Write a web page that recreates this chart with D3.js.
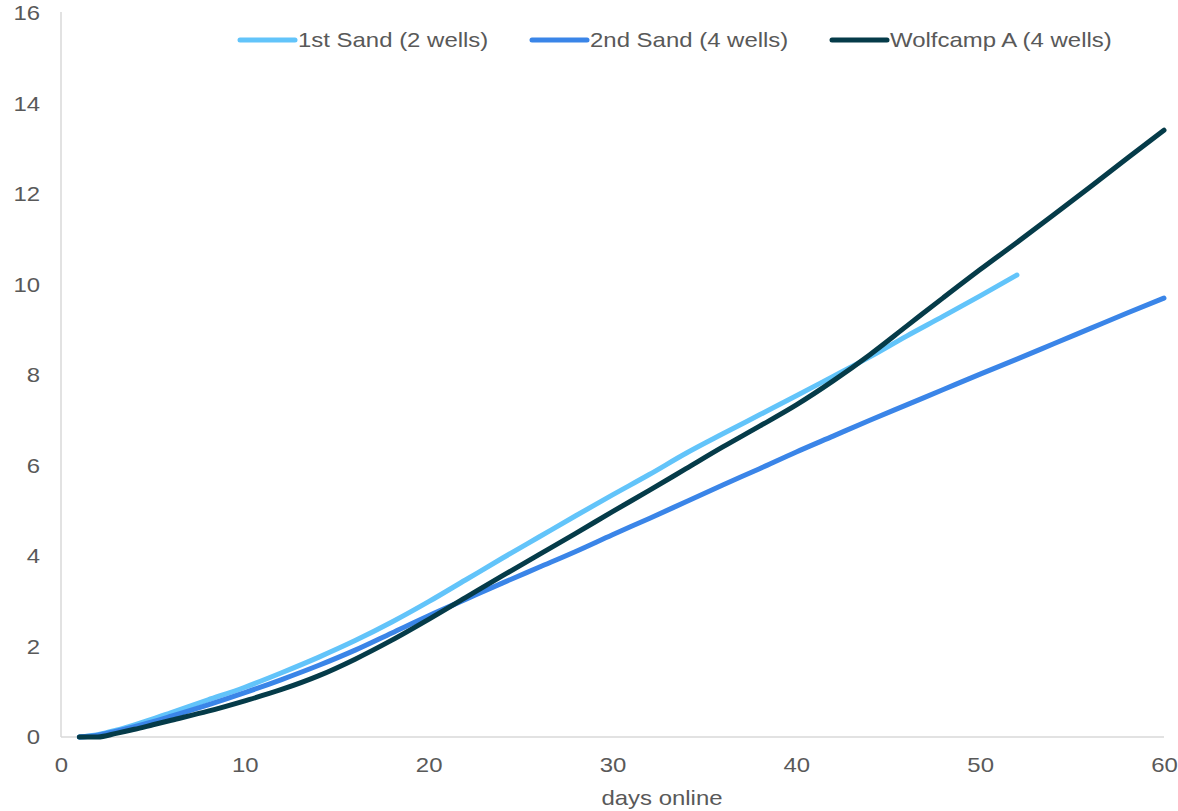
<!DOCTYPE html>
<html>
<head>
<meta charset="utf-8">
<script src="https://cdn.jsdelivr.net/npm/d3@7"></script>
<style>
  html, body { margin: 0; padding: 0; background: #ffffff; }
  svg { display: block; font-family: "Liberation Sans", Arial, sans-serif; }
</style>
</head>
<body>
<svg id="chart" width="1178" height="811"></svg>
<script>
// Cumulative production by days online, per landing zone
const seriesNames = ["1st Sand (2 wells)", "2nd Sand (4 wells)", "Wolfcamp A (4 wells)"];
const seriesColors = ["#62C4FA", "#3A85E8", "#053B49"];

const days1st = [1, 2, 3, 4, 5, 6, 8, 10, 12, 14, 16, 18, 20, 22, 24, 26, 28, 30, 32, 34, 36, 38, 40, 42, 44, 46, 48, 50, 52];
const vals1st = [0, 0.05, 0.15, 0.27, 0.4, 0.54, 0.82, 1.1, 1.42, 1.76, 2.13, 2.54, 2.99, 3.47, 3.95, 4.42, 4.89, 5.35, 5.8, 6.27, 6.7, 7.12, 7.54, 7.97, 8.4, 8.86, 9.3, 9.75, 10.21];

const days2nd = [1, 2, 3, 4, 5, 6, 8, 10, 12, 14, 16, 18, 20, 22, 24, 26, 28, 30, 32, 34, 36, 38, 40, 42, 44, 46, 48, 50, 52, 54, 56, 58, 60];
const vals2nd = [0, 0.04, 0.13, 0.23, 0.34, 0.46, 0.71, 0.98, 1.27, 1.58, 1.92, 2.3, 2.68, 3.04, 3.4, 3.75, 4.1, 4.47, 4.83, 5.2, 5.57, 5.93, 6.3, 6.65, 7.0, 7.34, 7.68, 8.02, 8.35, 8.69, 9.03, 9.37, 9.7];

const daysWA = [1, 2, 3, 4, 5, 6, 8, 10, 12, 14, 16, 18, 20, 22, 24, 26, 28, 30, 32, 34, 36, 38, 40, 42, 44, 46, 48, 50, 52, 54, 56, 58, 60];
const valsWA = [0, 0.0, 0.08, 0.17, 0.27, 0.37, 0.57, 0.8, 1.05, 1.35, 1.72, 2.14, 2.6, 3.08, 3.56, 4.03, 4.5, 4.98, 5.45, 5.93, 6.41, 6.87, 7.34, 7.87, 8.45, 9.08, 9.71, 10.33, 10.93, 11.54, 12.16, 12.79, 13.41];

const xTicks = [0, 10, 20, 30, 40, 50, 60];
const yTicks = [0, 2, 4, 6, 8, 10, 12, 14, 16];
const xTitle = "days online";

const svg = d3.select("#chart");
const margin = { left: 61, right: 14, top: 13, bottom: 74 };
const W = 1178, H = 811;

const x = d3.scaleLinear().domain([0, 60]).range([margin.left, W - margin.right]);
const y = d3.scaleLinear().domain([0, 16]).range([H - margin.bottom, margin.top]);

const textColor = "#595959";
const axisColor = "#D9D9D9";
const fontSize = "21px";
const textStretch = 1.14;

// Axis lines
svg.append("line")
  .attr("x1", x(0)).attr("x2", x(0))
  .attr("y1", y(16) - 1).attr("y2", y(0))
  .attr("stroke", axisColor).attr("stroke-width", 1.5);
svg.append("line")
  .attr("x1", x(0)).attr("x2", x(60))
  .attr("y1", y(0)).attr("y2", y(0))
  .attr("stroke", axisColor).attr("stroke-width", 1.5);

// Y axis labels
const yAxis = d3.axisLeft(y).tickValues(yTicks).tickSize(0).tickPadding(21).tickFormat(d3.format("d"));
const gy = svg.append("g").attr("transform", `translate(${x(0)},0)`).call(yAxis);
gy.select(".domain").remove();
gy.selectAll("text").attr("fill", textColor).style("font-size", fontSize)
  .style("font-family", "'Liberation Sans', Arial, sans-serif");

// X axis labels
const xAxis = d3.axisBottom(x).tickValues(xTicks).tickSize(0).tickPadding(20).tickFormat(d3.format("d"));
const gx = svg.append("g").attr("transform", `translate(0,${y(0)})`).call(xAxis);
gx.select(".domain").remove();
gx.selectAll("text").attr("fill", textColor).style("font-size", fontSize)
  .style("font-family", "'Liberation Sans', Arial, sans-serif");

// X axis title
svg.append("text")
  .attr("x", 662)
  .attr("y", 805)
  .attr("text-anchor", "middle")
  .attr("fill", textColor)
  .style("font-size", fontSize)
  .text(xTitle);

// Series lines
const line = d3.line()
  .x(d => x(d[0]))
  .y(d => y(d[1]))
  .curve(d3.curveMonotoneX);

const series = [
  d3.zip(days1st, vals1st),
  d3.zip(days2nd, vals2nd),
  d3.zip(daysWA, valsWA)
];

series.forEach((pts, i) => {
  svg.append("path")
    .datum(pts)
    .attr("d", line)
    .attr("fill", "none")
    .attr("stroke", seriesColors[i])
    .attr("stroke-width", 5)
    .attr("stroke-linecap", "round")
    .attr("stroke-linejoin", "round");
});

// Legend
const legendX = [240, 532, 832];
const legendY = 40;
seriesNames.forEach((name, i) => {
  const g = svg.append("g");
  g.append("line")
    .attr("x1", legendX[i]).attr("x2", legendX[i] + 55)
    .attr("y1", legendY).attr("y2", legendY)
    .attr("stroke", seriesColors[i])
    .attr("stroke-width", 5)
    .attr("stroke-linecap", "round");
  g.append("text")
    .attr("x", legendX[i] + 58)
    .attr("y", legendY + 7)
    .attr("fill", textColor)
    .style("font-size", fontSize)
    .text(name);
});

// Slightly wider lettering, as in the original deck graphics
svg.selectAll("text").each(function () {
  const len = this.getComputedTextLength();
  d3.select(this)
    .attr("textLength", len * textStretch)
    .attr("lengthAdjust", "spacingAndGlyphs");
});
</script>
</body>
</html>
